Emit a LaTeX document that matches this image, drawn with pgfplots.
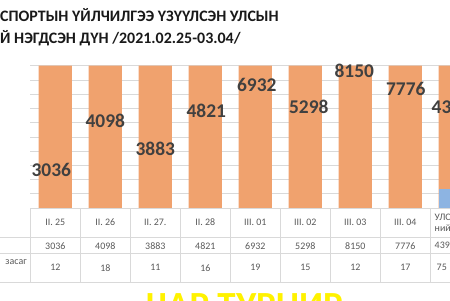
\documentclass[border=0pt]{standalone}
\usepackage{pgfplots}
\pgfplotsset{compat=1.18}
\usepackage{fontspec}
\setmainfont{Carlito}
\definecolor{barorange}{HTML}{F0A26E}
\definecolor{barblue}{HTML}{8DB4E2}
\definecolor{gridc}{HTML}{D9D9D9}
\definecolor{lab}{HTML}{404040}
\definecolor{tab}{HTML}{595959}
\begin{document}
\begin{tikzpicture}[x=1bp,y=1bp]
\useasboundingbox (0,0) rectangle (450,300);
\clip (0,0) rectangle (450,300);
\begin{axis}[
  at={(30.3bp,92bp)}, anchor=south west,
  scale only axis, width=450bp, height=142.4bp,
  xmin=-0.5, xmax=8.5, ymin=0, ymax=100,
  xtick=\empty, ytick={0,10,...,100}, yticklabels={},
  ymajorgrids, grid style={gridc, line width=0.6bp},
  axis line style={draw=none}, major tick length=0pt,
  clip=false,
]
\addplot[ybar, bar width=33.3bp, bar shift=0pt, fill=barorange, draw=none]
  coordinates {(0,100)(1,100)(2,100)(3,100)(4,100)(5,100)(6,100)(7,100)(8,100)};
\addplot[ybar, bar width=33.3bp, bar shift=0pt, fill=barblue, draw=none]
  coordinates {(8,13.5)};
\addplot[draw=none, mark=none, nodes near coords, point meta=explicit symbolic,
  every node near coord/.append style={anchor=center, inner sep=0pt,
    font=\bfseries\fontsize{19.5}{19.5}\selectfont, text=lab}]
  coordinates {(-0.08,26.7)[3036] (1,61.1)[4098] (2,41.4)[3883] (3.02,68.3)[4821]
    (4.03,86.4)[6932] (5.07,70.9)[5298] (5.98,96.4)[8150] (7.01,83.4)[7776] (8.02,70.9)[43994]};
\end{axis}
% table
\begin{scope}[gridc, line width=0.6bp]
\draw (30.3,92) -- (450,92);
\draw (0,62.7) -- (450,62.7);
\draw (0,46.7) -- (450,46.7);
\draw (0,17.7) -- (450,17.7);
\foreach \k in {0,...,8} \draw (30.3+50*\k,92) -- (30.3+50*\k,17.7);
\end{scope}
\begin{scope}[every node/.style={text=tab, font=\fontsize{10}{11}\selectfont, inner sep=0pt}]
\foreach \t [count=\i from 0] in {II. 25,II. 26,II. 27.,II. 28,III. 01,III. 02,III. 03,III. 04}
  \node at (55.3+50*\i,77.4) {\t};
\foreach \t [count=\i from 0] in {3036,4098,3883,4821,6932,5298,8150,7776}
  \node at (55.3+50*\i,54.3) {\t};
\foreach \t [count=\i from 0] in {12,18,11,16,19,15,12,17}
  \node at (55.3+50*\i,32.3) {\t};
\node[anchor=west, align=left] at (434.5,77.4) {УЛСЫН\\нийт};
\node[anchor=west] at (434.5,54.3) {43994};
\node[anchor=west] at (436.5,32.3) {75};
\node[anchor=east] at (27,38) {засаг};
\end{scope}
% title
\node[anchor=base west, inner sep=0pt, font=\bfseries\fontsize{16}{16}\selectfont, text=black!90] at (0,278.3) {СПОРТЫН ҮЙЛЧИЛГЭЭ ҮЗҮҮЛСЭН УЛСЫН};
\node[anchor=base west, inner sep=0pt, font=\bfseries\fontsize{16}{16}\selectfont, text=black!90] at (0,257) {Й НЭГДСЭН ДҮН /2021.02.25-03.04/};
\node[anchor=base west, inner sep=0pt, font=\bfseries\fontsize{37}{37}\selectfont, text=yellow] at (146,-17.8) {ЧАР ТУРНИР};
\end{tikzpicture}
\end{document}
